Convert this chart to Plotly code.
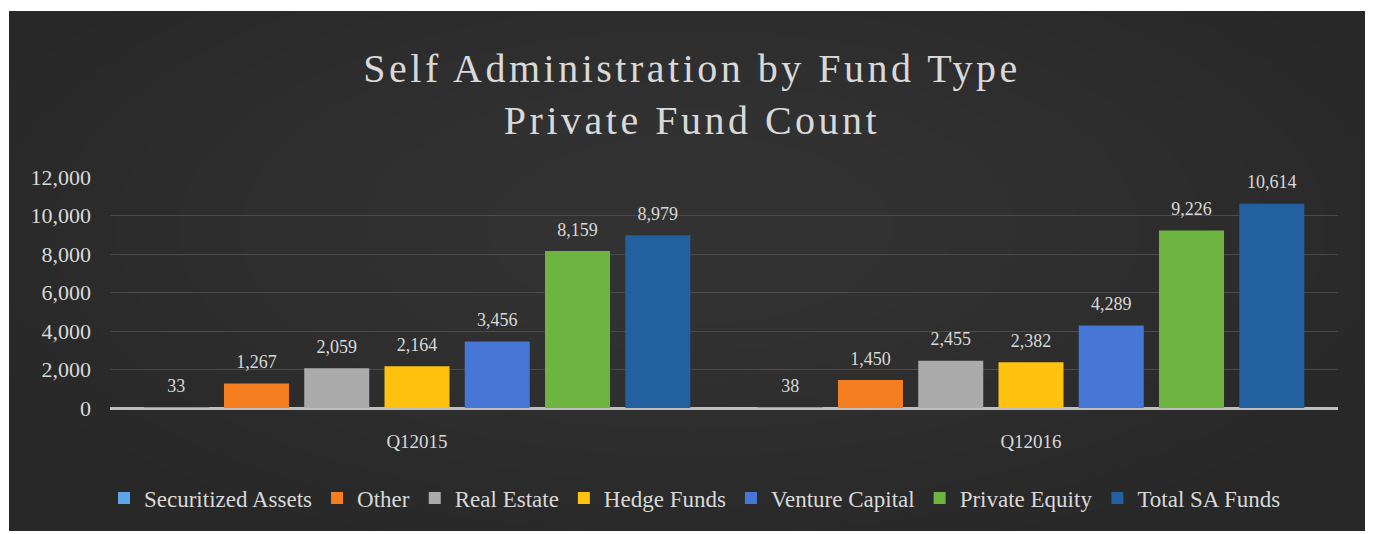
import plotly.graph_objects as go

# data
quarters = ["Q12015", "Q12016"]
fund_types = ["Securitized Assets", "Other", "Real Estate", "Hedge Funds",
              "Venture Capital", "Private Equity", "Total SA Funds"]
securitized = [33, 38]
other = [1267, 1450]
real_estate = [2059, 2455]
hedge = [2164, 2382]
venture = [3456, 4289]
private_equity = [8159, 9226]
total_sa = [8979, 10614]

series = [securitized, other, real_estate, hedge, venture, private_equity, total_sa]
colors = ["#5DA5E8", "#F47E20", "#ABABAB", "#FFC20E", "#4677D6", "#6DB540", "#22609F"]

# the page body adds an 8px margin, so the figure is laid out 8px in
OFF = 8
W, H = 1373 - OFF, 534 - OFF
L, R, T, B = 110 - OFF, 35, 177 - OFF, 126
pw, ph = W - L - R, H - T - B
FONT = "Liberation Serif"
TXT = "#D9D9D9"

fig = go.Figure()
for name, vals, col in zip(fund_types, series, colors):
    fig.add_trace(go.Bar(
        x=quarters, y=vals, name=name,
        marker=dict(color=col, line=dict(width=0)),
        text=[f"{v:,}" for v in vals], textposition="outside",
        # small base size + short trailing line lifts the label a bit off the bar
        texttemplate="<span style='font-size:18px'>%{text}</span><br> ",
        textfont=dict(family=FONT, size=8, color=TXT),
        cliponaxis=False,
    ))


def px_x(p):
    return (p - OFF - L) / pw


def px_y(p):
    return (H - B - (p - OFF)) / ph


# dark panel, white border round it
fig.add_shape(type="rect", xref="paper", yref="paper", layer="below",
              x0=px_x(9), x1=px_x(1390), y0=px_y(531), y1=px_y(11),
              fillcolor="#282828", line=dict(width=0))
# soft radial lightening towards the middle
cx, cy = 690, 230
for i in range(10):
    rx = 760 - i * 62
    ry = 330 - i * 26
    fig.add_shape(type="circle", xref="paper", yref="paper", layer="below",
                  x0=px_x(cx - rx), x1=px_x(cx + rx),
                  y0=px_y(cy + ry), y1=px_y(cy - ry),
                  fillcolor="rgba(255,255,255,0.009)", line=dict(width=0))

title_txt = ("<span style='letter-spacing:3.5px'>Self Administration by Fund Type</span><br>"
             "<span style='letter-spacing:3.5px'>Private Fund Count</span>")

fig.update_layout(
    width=W, height=H,
    margin=dict(l=L, r=R, t=T, b=B),
    paper_bgcolor="white", plot_bgcolor="rgba(0,0,0,0)",
    barmode="group", bargap=0.085, bargroupgap=0.19,
    title=dict(text=title_txt,
               x=(692 - OFF) / W, xanchor="center", y=1 - 74 / H, yanchor="top",
               font=dict(family=FONT, size=40, color=TXT)),
    font=dict(family=FONT, color=TXT),
    showlegend=True,
    legend=dict(orientation="h", x=px_x(695), xanchor="center",
                y=px_y(498), yanchor="middle",
                font=dict(family=FONT, size=23, color=TXT),
                bgcolor="rgba(0,0,0,0)", itemwidth=30),
    xaxis=dict(showgrid=False, showline=False, ticks="",
               tickfont=dict(family=FONT, size=19, color=TXT),
               ticklabelstandoff=20),
    yaxis=dict(range=[0, 12000], dtick=2000, tickformat=",",
               gridcolor="#4A4A4A", gridwidth=1,
               zeroline=True, zerolinecolor="#BFBFBF", zerolinewidth=3,
               tickfont=dict(family=FONT, size=22, color=TXT),
               ticklabelstandoff=18),
)

fig.write_html("out.html")
